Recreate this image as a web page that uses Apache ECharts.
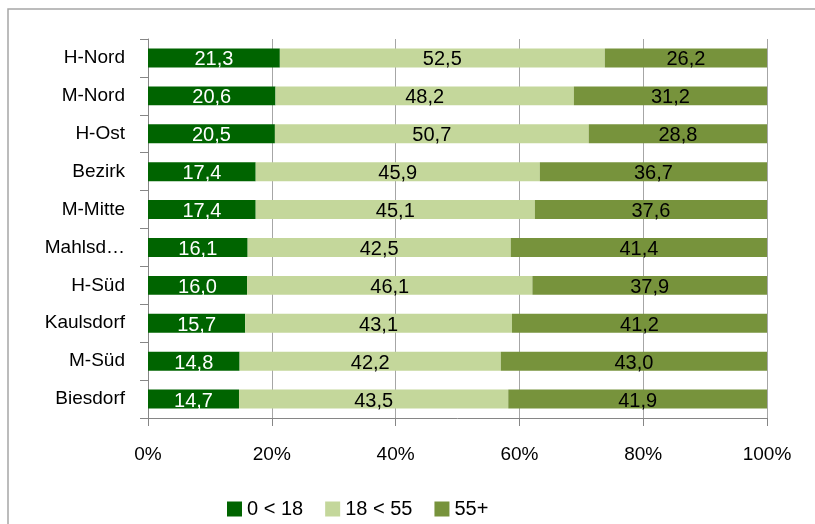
<!DOCTYPE html>
<html>
<head>
<meta charset="utf-8">
<script src="https://cdn.jsdelivr.net/npm/echarts@6/dist/echarts.min.js"></script>
<style>
  body { margin: 0; background: #fff; }
</style>
</head>
<body>
<div id="main" style="width: 815px;height:524px;"></div>
<script>
// categories top to bottom
var regions = ["H-Nord", "M-Nord", "H-Ost", "Bezirk", "M-Mitte", "Mahlsd\u2026", "H-S\u00fcd", "Kaulsdorf", "M-S\u00fcd", "Biesdorf"];
var young  = [21.3, 20.6, 20.5, 17.4, 17.4, 16.1, 16.0, 15.7, 14.8, 14.7];
var middle = [52.5, 48.2, 50.7, 45.9, 45.1, 42.5, 46.1, 43.1, 42.2, 43.5];
var old    = [26.2, 31.2, 28.8, 36.7, 37.6, 41.4, 37.9, 41.2, 43.0, 41.9];
var seriesNames = ["0 < 18", "18 < 55", "55+"];
var colors = ["#006400", "#c4d79b", "#77933c"];

var font = "Liberation Sans";

function fmt(p) {
  return p.value.toFixed(1).replace(".", ",");
}

function mkSeries(name, data, color, labelColor) {
  return {
    name: name,
    type: 'bar',
    stack: 'all',
    barWidth: '50%',
    data: data,
    itemStyle: { color: color },
    label: {
      show: true,
      position: 'inside',
      formatter: fmt,
      color: labelColor,
      fontFamily: font,
      fontSize: 20,
      offset: [0, 2]
    }
  };
}

var myChart = echarts.init(document.getElementById('main'));

var option = {
  animation: false,
  textStyle: { fontFamily: font },
  graphic: [{
    type: 'rect',
    shape: { x: 8, y: 9, width: 830, height: 540 },
    style: { fill: 'none', stroke: '#a6a6a6', lineWidth: 1.5 },
    silent: true
  }],
  grid: { left: 148, right: 48, top: 39, bottom: 106 },
  legend: {
    data: seriesNames,
    left: 222,
    top: 494,
    itemWidth: 15,
    itemHeight: 15,
    itemGap: 22,
    icon: 'rect',
    textStyle: { fontSize: 20, color: '#000', fontFamily: font }
  },
  xAxis: {
    type: 'value',
    min: 0,
    max: 100,
    interval: 20,
    axisLine: { show: true, lineStyle: { color: '#868686' } },
    axisTick: { show: true, length: 8, lineStyle: { color: '#868686' } },
    axisLabel: { formatter: '{value}%', margin: 27, color: '#000', fontSize: 19, fontFamily: font },
    splitLine: { show: true, lineStyle: { color: '#a6a6a6' } }
  },
  yAxis: {
    type: 'category',
    inverse: true,
    data: regions,
    axisLine: { show: true, lineStyle: { color: '#868686' } },
    axisTick: { show: true, length: 8, lineStyle: { color: '#868686' } },
    axisLabel: { margin: 23, color: '#000', fontSize: 19, fontFamily: font }
  },
  series: [
    mkSeries(seriesNames[0], young, colors[0], '#fff'),
    mkSeries(seriesNames[1], middle, colors[1], '#000'),
    mkSeries(seriesNames[2], old, colors[2], '#000')
  ]
};

myChart.setOption(option);
</script>
</body>
</html>
